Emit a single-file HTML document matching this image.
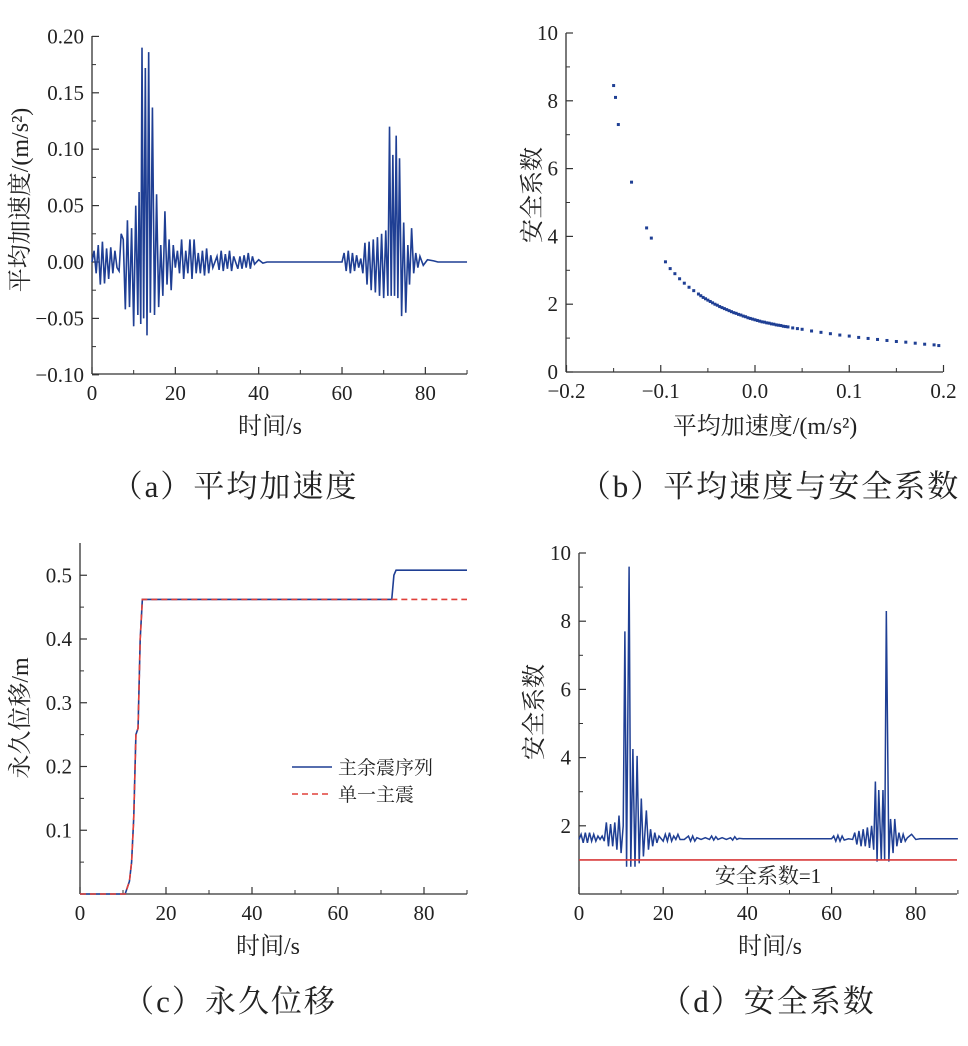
<!DOCTYPE html>
<html><head><meta charset="utf-8"><style>
body{margin:0;background:#fff}
svg text{font-family:"Liberation Serif","Noto Serif CJK SC",serif;fill:#222}
</style></head><body>
<svg id="s" width="968" height="1041" xmlns="http://www.w3.org/2000/svg"></svg>
<script>
// ---- data ----
const accT=[0,0.5,1,1.5,2,2.5,3,3.5,4,4.5,5,5.5,6,6.5,7,7.5,8,8.5,9,9.5,10,10.5,11,11.3,11.7,12,12.4,12.8,13.2,13.6,14,14.5,15,15.5,16,16.5,17,17.5,18,18.5,19,19.5,20,20.5,21,21.5,22,22.5,23,23.5,24,24.5,25,25.5,26,26.5,27,27.5,28,28.5,29,30,30.5,31,31.5,32,32.5,33,33.5,34,35,35.5,36,36.5,37,37.5,38,38.5,39,40,41,42,60,60.5,61,61.5,62,62.5,63,63.5,64,64.5,65,65.5,66,66.5,67,67.5,68,68.5,69,69.5,70,70.5,71,71.4,71.8,72.2,72.6,73,73.4,73.8,74.3,74.8,75.3,75.8,76.2,76.7,77.2,77.7,78.2,78.7,79.5,80.5,82,83,90];
const accV=[0,0.01,-0.01,0.015,-0.02,0.018,-0.019,0.012,-0.015,0.013,-0.01,0.01,-0.005,-0.008,0.025,0.02,-0.042,0.037,-0.04,0.03,-0.057,0.05,-0.047,0.062,-0.055,0.19,-0.05,0.172,-0.065,0.186,-0.045,0.137,-0.047,0.06,-0.04,0.015,-0.03,0.045,-0.02,0.02,-0.025,0.015,-0.005,0.01,-0.01,0.02,-0.015,0.01,-0.01,0.02,-0.015,0.02,-0.01,0.008,-0.01,0.01,-0.012,0.012,-0.01,0.006,-0.005,0.005,-0.007,0.01,-0.008,0.007,-0.006,0.01,-0.008,0.005,-0.006,0.005,-0.006,0.006,-0.005,0.008,-0.006,0.005,-0.002,0.002,-0.001,0,0,0.008,-0.008,0.01,-0.01,0.008,-0.008,0.006,-0.005,0.003,-0.01,0.017,-0.02,0.018,-0.025,0.02,-0.027,0.022,-0.03,0.025,-0.032,0.028,-0.03,0.12,-0.03,0.095,-0.03,0.112,-0.032,0.092,-0.048,0.035,-0.045,0.015,-0.02,0.03,-0.01,0.008,-0.005,0.005,-0.003,0.002,0.001,0,0];
const scX=[-0.150,-0.148,-0.145,-0.131,-0.115,-0.110,-0.095,-0.09,-0.085,-0.08,-0.075,-0.07,-0.065,-0.06,-0.0575,-0.055,-0.0525,-0.05,-0.0475,-0.045,-0.0425,-0.04,-0.0375,-0.035,-0.0325,-0.03,-0.0275,-0.025,-0.0225,-0.02,-0.0175,-0.015,-0.0125,-0.01,-0.0075,-0.005,-0.0025,0,0.0025,0.005,0.0075,0.01,0.0125,0.015,0.0175,0.02,0.0225,0.025,0.0275,0.03,0.0325,0.035,0.04,0.045,0.05,0.06,0.07,0.08,0.09,0.1,0.11,0.12,0.13,0.14,0.15,0.16,0.17,0.18,0.19,0.195];
const scY=[8.45,8.1,7.3,5.6,4.25,3.95,3.25,3.05,2.9,2.75,2.62,2.5,2.4,2.3,2.25,2.2,2.16,2.12,2.08,2.04,2.0,1.97,1.93,1.9,1.87,1.84,1.81,1.78,1.75,1.73,1.7,1.68,1.65,1.63,1.6,1.58,1.56,1.54,1.52,1.5,1.48,1.47,1.45,1.44,1.42,1.41,1.39,1.38,1.37,1.35,1.34,1.33,1.3,1.28,1.26,1.21,1.17,1.13,1.09,1.06,1.02,0.99,0.96,0.93,0.9,0.88,0.85,0.82,0.8,0.78];
const dispT=[0,10.5,11.5,12,12.5,13,13.5,14,14.5,72.5,73,73.5,90];
const dispMain=[0,0,0.02,0.05,0.12,0.25,0.26,0.4,0.462,0.462,0.5,0.508,0.508];
const dispSingle=[0,0,0.02,0.05,0.12,0.25,0.26,0.4,0.462,0.462,0.462,0.462,0.462];
const sfT=[0,0.5,1,1.5,2,2.5,3,3.5,4,4.5,5,5.5,6,6.5,7,7.5,8,8.5,9,9.5,10,10.5,10.9,11.3,11.9,12.3,12.8,13.3,13.8,14.3,14.8,15.3,16,16.5,17,17.5,18,18.5,19,20,20.5,21,21.5,22,22.5,23,23.5,24,25,26,26.5,27,27.5,28,29,30,31,31.5,32,32.5,33,34,35,36,36.5,37,37.5,38,39,40,42,60,60.5,61,61.5,62,62.5,63,64,65,65.5,66,66.5,67,67.5,68,68.5,69,69.5,70,70.4,70.8,71.2,71.8,72.2,72.6,73,73.6,74,74.6,75,75.5,76,76.5,77,77.5,78,79,80,81,82,90];
const sfV=[1.6,1.75,1.5,1.8,1.5,1.8,1.55,1.75,1.55,1.7,1.6,1.7,1.55,2.1,1.4,2.05,1.4,2.1,1.3,2.3,1.2,2.0,7.7,0.8,9.6,0.8,4.25,0.8,4.05,0.9,2.8,1.1,2.45,1.3,1.9,1.4,1.8,1.5,1.7,1.55,1.75,1.55,1.8,1.55,1.7,1.6,1.75,1.6,1.6,1.7,1.55,1.7,1.55,1.65,1.6,1.65,1.6,1.7,1.58,1.68,1.6,1.65,1.6,1.65,1.58,1.68,1.6,1.63,1.62,1.62,1.62,1.62,1.7,1.55,1.72,1.55,1.7,1.58,1.62,1.6,1.8,1.45,1.85,1.4,1.9,1.4,1.95,1.35,2.0,1.3,3.3,0.95,3.05,1.0,3.05,1.0,8.3,0.95,2.2,1.2,2.2,1.4,1.8,1.5,1.75,1.55,1.65,1.75,1.6,1.62,1.62,1.62];
// ---- drawing ----
const NS="http://www.w3.org/2000/svg";const S=document.getElementById('s');
function el(t,a,p){const e=document.createElementNS(NS,t);for(const k in a)e.setAttribute(k,a[k]);(p||S).appendChild(e);return e;}
function txt(x,y,s,size,anchor,p){const e=el('text',{x:x,y:y,'font-size':size,'text-anchor':anchor||'middle'},p);e.textContent=s;return e;}
function axes(name,x0,x1,y0,y1,xt,xf,yt,yf,minorX,minorY){
 const g=el('g',{});
 
 
 el('line',{x1:x0,y1:y0,x2:x1,y2:y0,stroke:'#333','stroke-width':1.3},g);
 el('line',{x1:x0,y1:y0,x2:x0,y2:y1,stroke:'#333','stroke-width':1.3},g);
 xt.forEach(v=>{const x=xf(v[0]);el('line',{x1:x,y1:y0,x2:x,y2:y0-7,stroke:'#333','stroke-width':1.2},g);txt(x,y0+26,v[1],21,'middle',g);});
 minorX.forEach(v=>{const x=xf(v);el('line',{x1:x,y1:y0,x2:x,y2:y0-4,stroke:'#333','stroke-width':1},g);});
 yt.forEach(v=>{const y=yf(v[0]);el('line',{x1:x0,y1:y,x2:x0+7,y2:y,stroke:'#333','stroke-width':1.2},g);txt(x0-8,y+7,v[1],21,'end',g);});
 minorY.forEach(v=>{const y=yf(v);el('line',{x1:x0,y1:y,x2:x0+4,y2:y,stroke:'#333','stroke-width':1},g);});
 return g;}
function poly(T,V,xf,yf,attrs,name){const p=el('polyline',Object.assign({points:T.map((t,i)=>xf(t)+','+yf(V[i])).join(' '),fill:'none'},attrs));
 
 return p;}
const T5=[[0,'0'],[20,'20'],[40,'40'],[60,'60'],[80,'80']];
// panel a
const ax=t=>92+t*4.167, ay=v=>262-v*1128;
axes('panel-a-axes',92,467,374,36,T5,ax,[[0.2,'0.20'],[0.15,'0.15'],[0.1,'0.10'],[0.05,'0.05'],[0,'0.00'],[-0.05,'−0.05'],[-0.1,'−0.10']],ay,[10,30,50,70,90],[0.175,0.125,0.075,0.025,-0.025,-0.075]);
poly(accT,accV,ax,ay,{stroke:'#1f3f94','stroke-width':1.6},'acceleration-line');
let t=txt(0,0,'平均加速度/(m/s²)',24,'middle');t.setAttribute('transform','translate(28,200) rotate(-90)');
txt(270,434,'时间/s',24);
txt(235,497,'（a）平均加速度',31).setAttribute('letter-spacing','2');
// panel b
const bx=v=>755+v*942.5, by=v=>372-v*33.9;
axes('panel-b-axes',566,943,372,33,[[-0.2,'−0.2'],[-0.1,'−0.1'],[0,'0.0'],[0.1,'0.1'],[0.2,'0.2']],bx,[[10,'10'],[8,'8'],[6,'6'],[4,'4'],[2,'2'],[0,'0']],by,[-0.15,-0.05,0.05,0.15],[9,7,5,3,1]);
scX.forEach((v,i)=>{const r=el('rect',{x:bx(v)-1.5,y:by(scY[i])-1.5,width:3,height:3,fill:'#1f3f94'});
 
 });
t=txt(0,0,'安全系数',24,'middle');t.setAttribute('transform','translate(540,195) rotate(-90)');
txt(765,434,'平均加速度/(m/s²)',24);
txt(770,497,'（b）平均速度与安全系数',31).setAttribute('letter-spacing','2');
// panel c
const cx=t=>80+t*4.3, cy=v=>894-v*637.5;
axes('panel-c-axes',80,467,894,543,T5,cx,[[0.5,'0.5'],[0.4,'0.4'],[0.3,'0.3'],[0.2,'0.2'],[0.1,'0.1']],cy,[10,30,50,70,90],[0.45,0.35,0.25,0.15,0.05]);
poly(dispT,dispMain,cx,cy,{stroke:'#1f3f94','stroke-width':1.6},'mainshock-aftershock-line');
poly(dispT,dispSingle,cx,cy,{stroke:'#e0403a','stroke-width':1.6,'stroke-dasharray':'6,4'},'single-mainshock-line');
el('line',{x1:292,y1:767,x2:332,y2:767,stroke:'#1f3f94','stroke-width':1.6});
el('line',{x1:292,y1:794,x2:332,y2:794,stroke:'#e0403a','stroke-width':1.6,'stroke-dasharray':'6,4'});
txt(338,774,'主余震序列',19,'start');txt(338,801,'单一主震',19,'start');
t=txt(0,0,'永久位移/m',24,'middle');t.setAttribute('transform','translate(28,718) rotate(-90)');
txt(268,954,'时间/s',24);
txt(230,1012,'（c）永久位移',31).setAttribute('letter-spacing','2');
// panel d
const dx=t=>579+t*4.21, dy=v=>894-v*34.1;
axes('panel-d-axes',579,957,894,553,T5,dx,[[10,'10'],[8,'8'],[6,'6'],[4,'4'],[2,'2']],dy,[10,30,50,70,90],[9,7,5,3]);
poly(sfT,sfV,dx,dy,{stroke:'#1f3f94','stroke-width':1.5},'safety-factor-line');
const th=el('line',{x1:579,y1:dy(1),x2:957,y2:dy(1),stroke:'#d83a3a','stroke-width':1.6});

txt(768,883,'安全系数=1',21);
t=txt(0,0,'安全系数',24,'middle');t.setAttribute('transform','translate(542,712) rotate(-90)');
txt(770,954,'时间/s',24);
txt(768,1012,'（d）安全系数',31).setAttribute('letter-spacing','2');
</script>
</body></html>
